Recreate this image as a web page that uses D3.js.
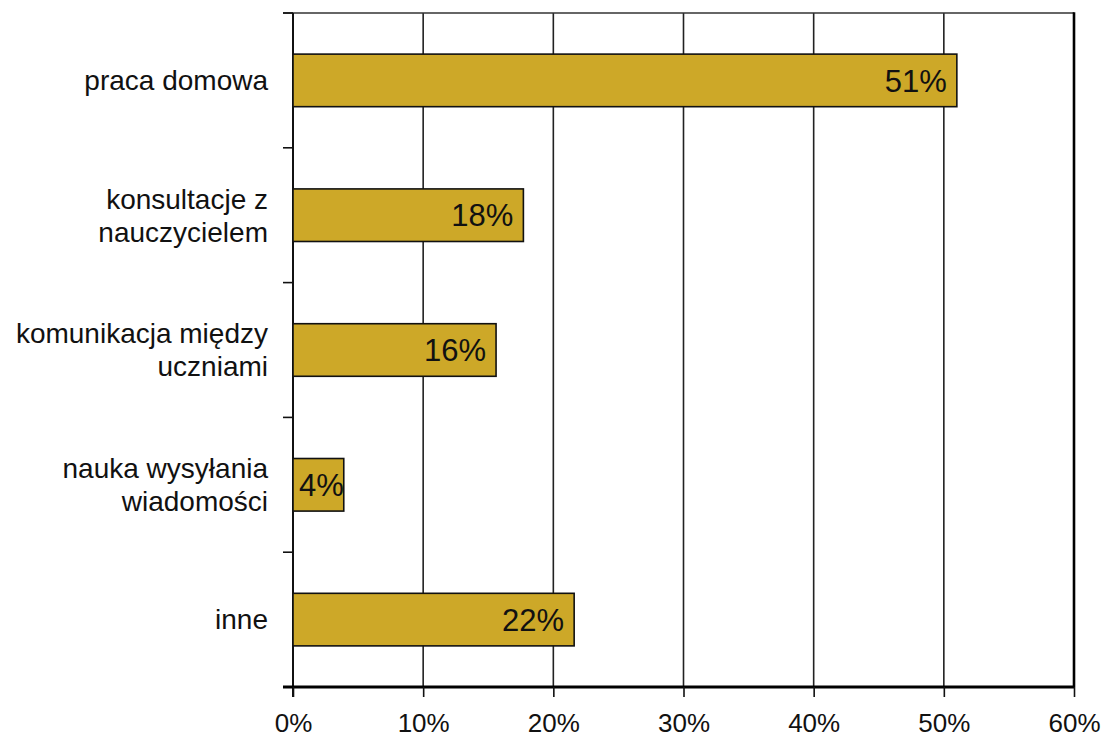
<!DOCTYPE html>
<html><head><meta charset="utf-8">
<script src="https://cdn.jsdelivr.net/npm/d3@7"></script>
<style>
html,body{margin:0;padding:0;background:#fff;}
svg{display:block;font-family:"Liberation Sans",Arial,Helvetica,sans-serif;}
</style></head>
<body>
<svg id="chart" width="1105" height="738"></svg>
<script>
const categories = [
  ["praca domowa"],
  ["konsultacje z", "nauczycielem"],
  ["komunikacja między", "uczniami"],
  ["nauka wysyłania", "wiadomości"],
  ["inne"]
];
const values = [51.0, 17.7, 15.6, 3.9, 21.6];
const valueLabels = ["51%", "18%", "16%", "4%", "22%"];
const xTicks = [0, 10, 20, 30, 40, 50, 60];
const xTickLabels = ["0%", "10%", "20%", "30%", "40%", "50%", "60%"];

const svg = d3.select("#chart");
const m = {left: 293, right: 1074, top: 13, bottom: 687};
const ids = categories.map((c, i) => i);

const x = d3.scaleLinear().domain([0, 60]).range([m.left, m.right]);
const y = d3.scaleBand().domain(ids).range([m.top, m.bottom]).paddingInner(0.61).paddingOuter(0.305);
const yb = d3.scaleBand().domain(ids).range([m.top, m.bottom]);

// gridlines
svg.append("g").selectAll("line").data(xTicks.slice(1, -1)).join("line")
  .attr("x1", d => x(d)).attr("x2", d => x(d))
  .attr("y1", m.top).attr("y2", m.bottom)
  .attr("stroke", "#222").attr("stroke-width", 1.6);

// top border
svg.append("line").attr("x1", m.left - 10).attr("x2", m.right)
  .attr("y1", m.top).attr("y2", m.top).attr("stroke", "#333").attr("stroke-width", 1.6);
// right border
svg.append("line").attr("x1", m.right).attr("x2", m.right)
  .attr("y1", m.top - 0.8).attr("y2", m.bottom).attr("stroke", "#000").attr("stroke-width", 2.6);

// left axis with ticks at category boundaries
const boundaries = ids.map(i => yb(i)).concat([m.bottom]);
svg.append("line").attr("x1", m.left).attr("x2", m.left)
  .attr("y1", m.top).attr("y2", m.bottom + 10).attr("stroke", "#111").attr("stroke-width", 2);
svg.append("g").selectAll("line").data(boundaries).join("line")
  .attr("x1", m.left - 10).attr("x2", m.left)
  .attr("y1", d => d).attr("y2", d => d)
  .attr("stroke", "#111").attr("stroke-width", 1.6);

// bars
svg.append("g").selectAll("rect").data(values).join("rect")
  .attr("x", x(0)).attr("y", (d, i) => y(i))
  .attr("width", d => x(d) - x(0)).attr("height", y.bandwidth())
  .attr("fill", "#CDA828").attr("stroke", "#111").attr("stroke-width", 1.6);

// bottom axis
const xAxis = d3.axisBottom(x).tickValues(xTicks).tickFormat((d, i) => xTickLabels[i])
  .tickSize(10).tickSizeOuter(0);
const gx = svg.append("g").attr("transform", `translate(0,${m.bottom})`).call(xAxis);
gx.select(".domain").attr("stroke", "#000").attr("stroke-width", 3)
  .attr("d", `M${m.left - 10},0H${m.right + 1}`);
gx.selectAll(".tick line").attr("stroke", "#111").attr("stroke-width", 1.6);
gx.selectAll(".tick text").attr("font-size", 26).attr("fill", "#111")
  .attr("font-family", "Liberation Sans, Arial, sans-serif").attr("y", 0).attr("dy", 45);

// category labels
const lh = 33;
const cg = svg.append("g");
categories.forEach((lines, i) => {
  const cy = y(i) + y.bandwidth() / 2;
  const t = cg.append("text").attr("text-anchor", "end").attr("font-size", 28).attr("fill", "#111");
  lines.forEach((ln, k) => {
    t.append("tspan").attr("x", 268)
      .attr("y", cy + (k - (lines.length - 1) / 2) * lh)
      .attr("dy", "0.35em").text(ln);
  });
});

// value labels
const vg = svg.append("g");
values.forEach((v, i) => {
  const cy = y(i) + y.bandwidth() / 2;
  const t = vg.append("text").attr("font-size", 31).attr("fill", "#111")
    .attr("y", cy).attr("dy", "0.36em").text(valueLabels[i]);
  const w = t.node().getComputedTextLength();
  const xe = x(v) - 10;
  if (xe - w < x(0) + 5) {
    t.attr("text-anchor", "start").attr("x", x(0) + 6);
  } else {
    t.attr("text-anchor", "end").attr("x", xe);
  }
});
</script>
</body></html>
